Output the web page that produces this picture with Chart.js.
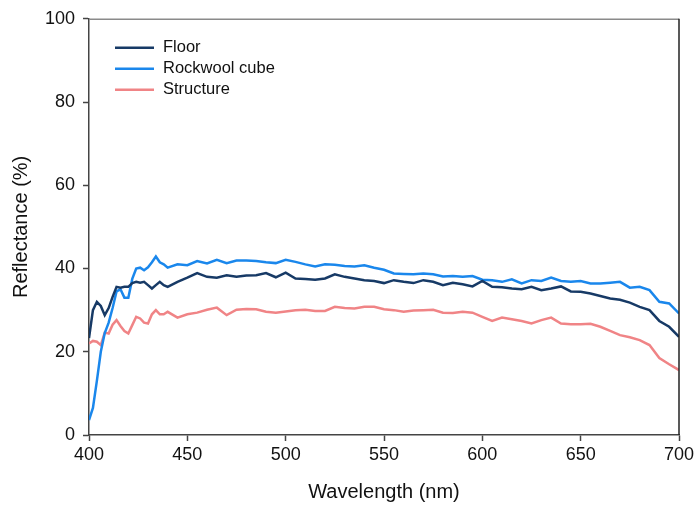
<!DOCTYPE html>
<html>
<head>
<meta charset="utf-8">
<script src="https://cdn.jsdelivr.net/npm/chart.js@4.4.1/dist/chart.umd.min.js"></script>
<style>
  html, body { margin: 0; padding: 0; background: #fff; }
  #wrap { width: 696px; height: 506px; }
</style>
</head>
<body>
<div id="wrap"><canvas id="grafico" width="696" height="506"></canvas></div>
<script>
// longitudes de onda (nm)
const wavelengths = [
  400, 402, 404, 406, 408, 410, 412, 414, 416, 418, 420, 422, 424, 426, 428, 430,
  432, 434, 436, 438, 440, 445, 450, 455, 460, 465, 470, 475, 480, 485, 490, 495,
  500, 505, 510, 515, 520, 525, 530, 535, 540, 545, 550, 555, 560, 565, 570, 575,
  580, 585, 590, 595, 600, 605, 610, 615, 620, 625, 630, 635, 640, 645, 650, 655,
  660, 665, 670, 675, 680, 685, 690, 695, 700
];

const floorValues = [
  23.3, 30, 32, 31, 28.8, 30.5, 33.2, 35.6, 35.4, 35.6, 35.6, 36.5, 36.8, 36.6, 36.8, 36,
  35.2, 36, 36.8, 36, 35.6, 36.8, 37.8, 38.9, 38, 37.8, 38.4, 38, 38.3, 38.4, 38.9, 37.9,
  39, 37.6, 37.5, 37.3, 37.6, 38.6, 38, 37.6, 37.2, 37, 36.5, 37.2, 36.8, 36.5, 37.2, 36.8,
  36, 36.6, 36.2, 35.7, 37, 35.6, 35.5, 35.2, 35, 35.6, 34.8, 35.2, 35.7, 34.5, 34.4, 34,
  33.4, 32.8, 32.5, 31.8, 30.8, 30, 27.4, 26, 23.6
];

const rockwoolValues = [
  3.6, 6.5, 13, 20, 24.5, 27, 30.5, 34.5, 35, 33, 33, 37.5, 40, 40.2, 39.6, 40.3,
  41.5, 42.9, 41.5, 41, 40.2, 41, 40.8, 41.8, 41.2, 42.1, 41.3, 41.9, 41.9, 41.8, 41.5, 41.3,
  42.1, 41.6, 41, 40.5, 41, 40.9, 40.6, 40.5, 40.8, 40.2, 39.7, 38.8, 38.7, 38.6, 38.8, 38.6,
  38.1, 38.2, 38, 38.2, 37.3, 37.2, 36.8, 37.4, 36.4, 37.2, 37, 37.8, 37, 36.8, 37, 36.4,
  36.4, 36.6, 36.8, 35.4, 35.6, 34.8, 32, 31.6, 29.2
];

const structureValues = [
  22, 22.6, 22.4, 21.6, 24.6, 24.4, 26.5, 27.6, 26.2, 25, 24.4, 26.4, 28.4, 28, 27, 26.8,
  29, 30, 29, 29, 29.6, 28.2, 29, 29.4, 30.1, 30.6, 28.8, 30.1, 30.3, 30.2, 29.6, 29.4,
  29.7, 30, 30.1, 29.8, 29.8, 30.8, 30.5, 30.4, 30.8, 30.8, 30.2, 30, 29.6, 29.9, 30, 30.1,
  29.4, 29.3, 29.6, 29.4, 28.4, 27.4, 28.2, 27.8, 27.4, 26.8, 27.6, 28.2, 26.8, 26.6, 26.6, 26.7,
  26, 25, 24, 23.5, 22.8, 21.6, 18.5, 17, 15.6
];

const xTicks = [400, 450, 500, 550, 600, 650, 700];
const yTicks = [0, 20, 40, 60, 80, 100];

const seriesNames = ['Floor', 'Rockwool cube', 'Structure'];
const seriesColors = ['#173a66', '#1a87ec', '#f08486'];

const FONT = 'Liberation Sans, Arial, sans-serif';

function puntos(valores) {
    return wavelengths.map((w, i) => ({ x: w, y: valores[i] }));
}

// Leyenda dibujada dentro del área del gráfico y marco superior/derecho
const extras = {
    id: 'extras',
    afterDatasetsDraw(chart) {
        const ctx = chart.ctx;
        const a = chart.chartArea;
        ctx.save();
        ctx.lineWidth = 1.5;
        ctx.strokeStyle = '#8a8a8a';
        ctx.beginPath();
        ctx.moveTo(a.left, a.top + 0.5);
        ctx.lineTo(a.right, a.top + 0.5);
        ctx.stroke();
        ctx.strokeStyle = '#222';
        ctx.beginPath();
        ctx.moveTo(a.right, a.top);
        ctx.lineTo(a.right, a.bottom);
        ctx.stroke();

        ctx.font = '16.5px ' + FONT;
        ctx.textBaseline = 'middle';
        ctx.fillStyle = '#111';
        chart.data.datasets.forEach((ds, i) => {
            const y = a.top + 29 + i * 21;
            ctx.strokeStyle = ds.borderColor;
            ctx.lineWidth = 2.5;
            ctx.beginPath();
            ctx.moveTo(a.left + 26, y);
            ctx.lineTo(a.left + 65, y);
            ctx.stroke();
            ctx.fillText(ds.label, a.left + 74, y);
        });
        ctx.restore();
    }
};

const ctx = document.getElementById('grafico').getContext('2d');
const grafico = new Chart(ctx, {
    type: 'line',
    data: {
        datasets: [floorValues, rockwoolValues, structureValues].map((v, i) => ({
            label: seriesNames[i],
            data: puntos(v),
            borderColor: seriesColors[i],
            backgroundColor: seriesColors[i],
            borderWidth: 2.5,
            pointRadius: 0,
            tension: 0,
            fill: false
        }))
    },
    options: {
        responsive: false,
        animation: false,
        layout: { padding: { top: 18, right: 17, left: 0, bottom: 0 } },
        plugins: {
            legend: { display: false },
            tooltip: { enabled: false }
        },
        scales: {
            x: {
                type: 'linear',
                min: 400,
                max: 700,
                afterBuildTicks: (s) => { s.ticks = xTicks.map(v => ({ value: v })); },
                afterFit: (s) => { s.height = 71; s.paddingRight = 0; },
                border: { color: '#444', width: 1.5 },
                grid: { drawOnChartArea: false, tickLength: 6, color: '#444', tickWidth: 1.5 },
                ticks: { color: '#111', font: { family: FONT, size: 18 }, padding: 3, maxRotation: 0 },
                title: {
                    display: true,
                    text: 'Wavelength (nm)',
                    color: '#111',
                    font: { family: FONT, size: 20 },
                    padding: { top: 0, bottom: 2 }
                }
            },
            y: {
                min: 0,
                max: 100,
                afterBuildTicks: (s) => { s.ticks = yTicks.map(v => ({ value: v })); },
                afterFit: (s) => { s.width = 89; },
                border: { color: '#444', width: 1.5 },
                grid: { drawOnChartArea: false, tickLength: 6, color: '#444', tickWidth: 1.5 },
                ticks: { color: '#111', font: { family: FONT, size: 18 }, padding: 8 },
                title: {
                    display: true,
                    text: 'Reflectance (%)',
                    color: '#111',
                    font: { family: FONT, size: 20 },
                    padding: { top: 9, bottom: 0 }
                }
            }
        }
    },
    plugins: [extras]
});
</script>
</body>
</html>
